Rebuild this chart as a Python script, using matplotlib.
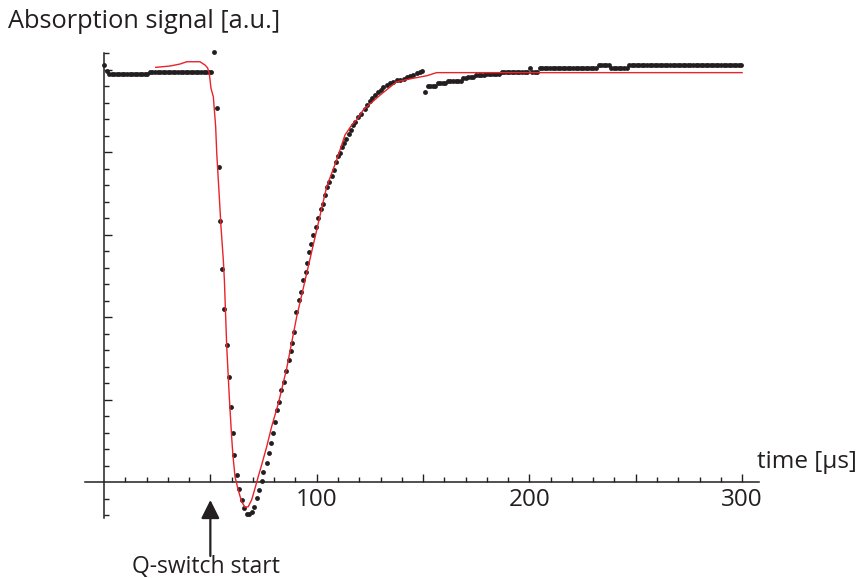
import matplotlib.pyplot as plt
import numpy as np
from matplotlib.ticker import FixedLocator, FuncFormatter

plt.rcParams['font.family'] = ['Open Sans', 'DejaVu Sans']

# ---- data (time in us, signal in arbitrary units, 1 unit = one minor y tick)
dt = 1.2

# flat level before the Q-switch
pre_y = [25.27, 24.93] + [24.73] * 16 + [24.87] * 25

# measured points through the dip and recovery
pulse_t = [51.9, 53.0, 54.0, 54.6, 55.5, 56.6, 57.8, 58.8, 59.8, 60.6,
           61.3, 62.4, 63.6, 64.7, 65.8, 67.1, 68.3, 69.4, 70.7, 71.8,
           72.9, 74.1, 74.9, 76.5, 77.4, 78.5, 79.6, 80.5, 81.5, 82.1,
           83.1, 84.6, 85.6, 86.8, 87.9, 88.4, 89.3, 90.3, 91.5, 92.6,
           93.7, 95.0, 95.6, 96.2, 97.3, 98.4, 99.7, 100.8, 101.9, 102.8,
           103.8, 105.0, 106.0, 107.0, 108.0, 109.2, 110.2, 111.0, 112.0, 113.0,
           114.0, 115.0, 116.0, 117.0, 118.0, 119.5, 121.0, 122.5, 123.6, 125.0,
           126.0, 127.4, 129.0, 130.0, 131.3, 132.9, 134.5, 136.0, 137.6, 139.2,
           141.0, 142.6, 143.9, 145.4, 147.0, 148.6, 149.7]
pulse_y = [26.08, 22.65, 19.09, 15.82, 12.91, 10.50, 8.30, 6.38, 4.56, 2.99,
           1.64, 0.42, -0.44, -1.09, -1.59, -1.96, -1.96, -1.80, -1.50, -0.99,
           -0.48, 0.06, 0.62, 1.13, 1.74, 2.35, 2.95, 3.65, 4.36, 4.87,
           5.58, 6.08, 6.75, 7.39, 7.94, 8.42, 9.11, 10.32, 11.03, 11.53,
           12.24, 12.75, 13.25, 13.92, 14.42, 14.95, 15.47, 15.98, 16.53, 16.83,
           17.39, 17.90, 18.20, 18.56, 18.91, 19.41, 19.76, 19.92, 20.28, 20.56,
           20.79, 21.09, 21.33, 21.64, 21.84, 22.14, 22.30, 22.59, 22.85, 23.11,
           23.25, 23.45, 23.62, 23.76, 23.92, 24.06, 24.16, 24.26, 24.36, 24.36,
           24.41, 24.53, 24.61, 24.67, 24.77, 24.87, 24.93]

# flat level after recovery (digitiser steps)
tail_start = 150.9
tail_y = ([23.65] + [24.0] * 4 + [24.16] * 4 + [24.32] * 6 + [24.47] * 2
          + [24.55] * 3 + [24.67] * 4 + [24.73] * 6 + [24.87] * 11 + [25.07]
          + [24.87] * 3 + [25.07] * 23 + [25.27] * 5 + [25.07] * 7 + [25.27] * 45)

# fitted curve (red)
fit_t = [24.3, 31.0, 35.7, 38.9, 45.1, 47.5, 48.7, 49.5, 50.3, 51.4,
         52.5, 53.0, 54.1, 55.0, 56.1, 56.6, 57.7, 58.9, 60.0, 60.6,
         61.6, 63.1, 64.7, 66.3, 67.8, 69.4, 71.0, 72.5, 74.1, 76.5,
         78.8, 82.0, 85.9, 90.6, 95.3, 100.0, 104.7, 109.4, 113.3, 116.5,
         118.8, 121.9, 129.8, 137.6, 145.4, 151.7, 156.4, 300.0]
fit_y = [25.13, 25.21, 25.33, 25.47, 25.47, 25.27, 25.10, 24.77, 23.86, 23.35,
         21.53, 19.94, 17.52, 15.47, 13.45, 12.24, 8.20, 5.17, 2.75, 1.64,
         0.32, -0.48, -1.19, -1.53, -1.50, -1.09, -0.38, 0.32, 1.03, 2.14,
         3.35, 4.77, 6.89, 10.02, 12.65, 15.27, 17.90, 19.52, 21.03, 21.64,
         21.94, 22.55, 23.45, 24.26, 24.47, 24.62, 24.81, 24.81]

pre_t = dt * np.arange(len(pre_y))
tail_t = tail_start + dt * np.arange(len(tail_y))

# ---- figure
W, H = 861, 578
fig = plt.figure(figsize=(W / 100, H / 100), dpi=100)
ax = fig.add_axes([0, 0, 1, 1])

x0_px, y0_px = 104, 482        # where the axes cross
sx, sy = 2.127, 16.5           # px per us, px per unit
ax.set_xlim(-x0_px / sx, (W - x0_px) / sx)
ax.set_ylim(-(H - y0_px) / sy, y0_px / sy)

ink = '#231f20'
for t, y in [(pre_t, pre_y), (pulse_t, pulse_y), (tail_t, tail_y)]:
    ax.plot(t, y, 'o', color=ink, ms=3.5, mec='none', zorder=3)
ax.plot(fit_t, fit_y, color='#e8232a', lw=1.0, zorder=4)

# axes through the origin
for s in ['top', 'right']:
    ax.spines[s].set_visible(False)
ax.spines['left'].set_position(('data', 0))
ax.spines['bottom'].set_position(('data', 0))
ax.spines['left'].set_bounds(-2.2, 26.0)
ax.spines['bottom'].set_bounds(-9, 308)
for s in ['left', 'bottom']:
    ax.spines[s].set_color(ink)
    ax.spines[s].set_linewidth(1.1)

ax.xaxis.set_major_locator(FixedLocator(np.arange(50, 301, 50)))
ax.xaxis.set_minor_locator(FixedLocator(np.arange(10, 301, 10)))
ax.xaxis.set_major_formatter(FuncFormatter(lambda v, p: f'{v:.0f}' if v % 100 == 0 else ''))
ax.yaxis.set_major_locator(FixedLocator([5, 10, 15, 20, 25]))
ax.yaxis.set_minor_locator(FixedLocator([v for v in range(-2, 27) if v % 5]))
ax.yaxis.set_major_formatter(FuncFormatter(lambda v, p: ''))
ax.tick_params(which='both', direction='in', color=ink, width=1.0)
ax.tick_params(which='major', length=5.5)
ax.tick_params(which='minor', length=3.5)
ax.tick_params(axis='x', which='major', labelsize=17.5, pad=4, labelcolor=ink)

# labels
def px(x, y):
    return x / W, 1 - y / H

fig.text(*px(8, 22), 'Absorption signal [a.u.]', fontsize=18.3, color=ink, va='center', ha='left')
fig.text(*px(757, 462), 'time [µs]', fontsize=17.5, color=ink, va='center', ha='left')
fig.text(*px(206, 567), 'Q-switch start', fontsize=16.5, color=ink, va='center', ha='center')

ax.annotate('', xy=(50, -(500 - y0_px) / sy), xytext=(50, -(556 - y0_px) / sy),
            arrowprops=dict(arrowstyle='-|>', mutation_scale=28, lw=1.6, color=ink,
                            shrinkA=0, shrinkB=0))

fig.savefig('out.png', dpi=100, facecolor='white')
